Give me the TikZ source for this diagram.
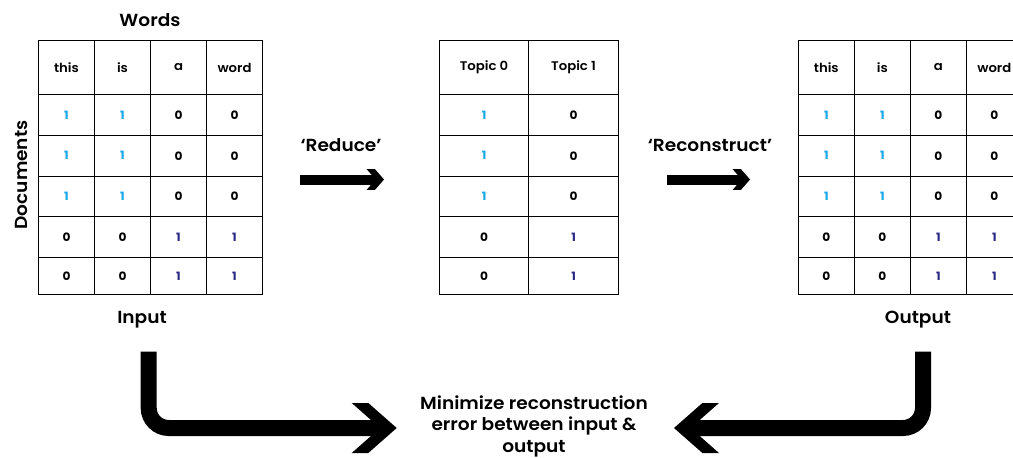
\documentclass[tikz,border=0pt]{standalone}
\usepackage{fontspec}
\setmainfont{Poppins SemiBold}[BoldFont={Poppins Bold},FakeStretch=1.06]
\definecolor{oneblue}{HTML}{16A8E6}
\definecolor{onepurple}{HTML}{2D2A85}
\newcommand\cyo{\textcolor{oneblue}{1}}
\newcommand\puo{\textcolor{onepurple}{1}}
% chevron arrow head: tip, direction (1 right / -1 left), back offset, front offset, half height
\newcommand\chevhead[5]{%
  \fill ([shift={({0-(#2)*#3},-#5)}]#1) -- ([shift={({0-(#2)*#4},-#5)}]#1) -- (#1)
     -- ([shift={({0-(#2)*#4},#5)}]#1) -- ([shift={({0-(#2)*#3},#5)}]#1)
     -- ([shift={({0-(#2)*(#3-#4)},0)}]#1) -- cycle;}
\begin{document}
\begin{tikzpicture}[x=1pt,y=-1pt,
  tcell/.style={draw=black, line width=1pt, inner sep=0pt},
  hdrtxt/.style={font=\fontsize{12.5}{14}\selectfont},
  numtxt/.style={font=\bfseries\fontsize{11.5}{13}\selectfont},
  lbl/.style={font=\fontsize{17.5}{20}\selectfont, inner sep=0pt},
  thin arrow/.style={line width=10pt},
  fat arrow/.style={line width=16pt, rounded corners=20pt}]
\useasboundingbox[fill=white] (0,0) rectangle (1013,458);

% ---------- input table ----------
\foreach \t [count=\c from 0] in {this,is,a,word}
  \node[tcell,hdrtxt,minimum width=56pt,minimum height=54pt] (in-0-\c) at ({66.5+56*\c},67.5) {\t};
\foreach \yy/\hh/\vals [count=\r] in {115/41/{\cyo,\cyo,0,0},155.75/40.5/{\cyo,\cyo,0,0},196.35/40.7/{\cyo,\cyo,0,0},237.1/40.8/{0,0,\puo,\puo},275.9/36.8/{0,0,\puo,\puo}}
  \foreach \v [count=\c from 0] in \vals
    \node[tcell,numtxt,minimum width=56pt,minimum height=\hh pt] (in-\r-\c) at ({66.5+56*\c},\yy) {\v};

% ---------- topic table ----------
\foreach \t [count=\c from 0] in {Topic 0,Topic 1}
  \node[tcell,hdrtxt,minimum width=89.5pt,minimum height=54pt] (tp-0-\c) at ({484.05+89.5*\c},67.5) {\t};
\foreach \yy/\hh/\vals [count=\r] in {115/41/{\cyo,0},155.75/40.5/{\cyo,0},196.35/40.7/{\cyo,0},237.1/40.8/{0,\puo},275.9/36.8/{0,\puo}}
  \foreach \v [count=\c from 0] in \vals
    \node[tcell,numtxt,minimum width=89.5pt,minimum height=\hh pt] (tp-\r-\c) at ({484.05+89.5*\c},\yy) {\v};

% ---------- output table ----------
\foreach \t [count=\c from 0] in {this,is,a,word}
  \node[tcell,hdrtxt,minimum width=56pt,minimum height=54pt] (out-0-\c) at ({826.3+56*\c},67.5) {\t};
\foreach \yy/\hh/\vals [count=\r] in {115/41/{\cyo,\cyo,0,0},155.75/40.5/{\cyo,\cyo,0,0},196.35/40.7/{\cyo,\cyo,0,0},237.1/40.8/{0,0,\puo,\puo},275.9/36.8/{0,0,\puo,\puo}}
  \foreach \v [count=\c from 0] in \vals
    \node[tcell,numtxt,minimum width=56pt,minimum height=\hh pt] (out-\r-\c) at ({826.3+56*\c},\yy) {\v};

% ---------- labels ----------
\node[lbl] (words) at (150,20) {Words};
\node[lbl,rotate=90] (docs) at (21.5,175) {Documents};
\node[lbl] (inlbl) at (142,320) {Input};
\node[lbl] (outlbl) at (918,320) {Output};
\node[lbl] (redlbl) at (341,145) {‘Reduce’};
\node[lbl] (reclbl) at (710,145) {‘Reconstruct’};
\node[lbl,align=center,font=\fontsize{17.5}{21.5}\selectfont] (goal) at (534,426)
  {Minimize reconstruction\\error between input \&\\output};

% ---------- arrows ----------
\coordinate (redA) at (300,179.5);
\coordinate (redB) at (384,179.5);
\draw[thin arrow] (redA) -- ([xshift=-7pt]redB);
\chevhead{redB}{1}{17.3}{9}{10.3}

\coordinate (recA) at (666.7,179.5);
\coordinate (recB) at (750,179.5);
\draw[thin arrow] (recA) -- ([xshift=-7pt]recB);
\chevhead{recB}{1}{17.3}{9}{10.3}

\coordinate (inS) at (148.7,351.7);
\coordinate (goalL) at (396.7,428);
\draw[fat arrow] (inS) |- ([xshift=-14pt]goalL);
\chevhead{goalL}{1}{45}{28.4}{25}

\coordinate (outS) at (923,351.7);
\coordinate (goalR) at (674,428);
\draw[fat arrow] (outS) |- ([xshift=14pt]goalR);
\chevhead{goalR}{-1}{45}{28.4}{25}
\end{tikzpicture}
\end{document}
